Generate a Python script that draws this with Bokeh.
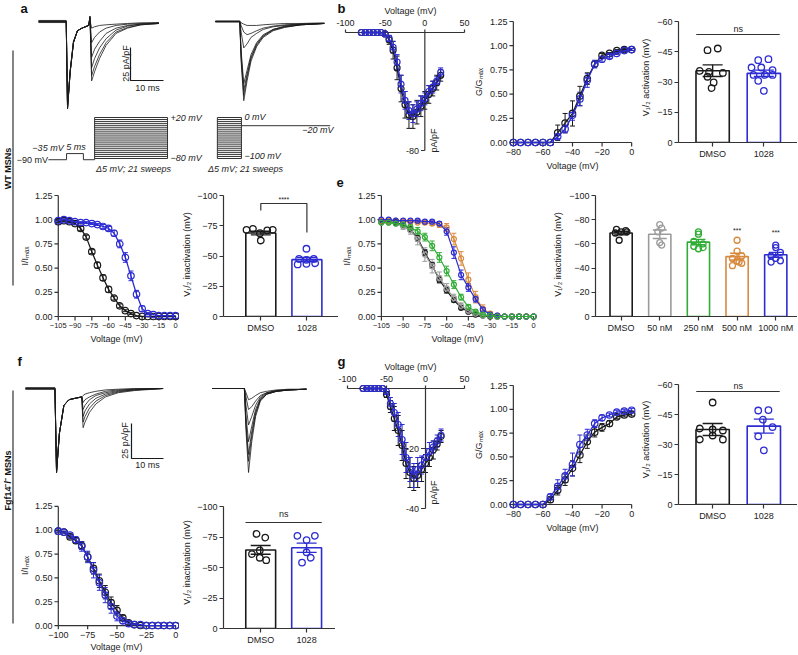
import numpy as np
from bokeh.plotting import figure
from bokeh.layouts import row, column
from bokeh.models import (Range1d, LinearAxis, FixedTicker, Label, Whisker, TeeHead,
                          ColumnDataSource, PrintfTickFormatter)
from bokeh.embed import file_html
from bokeh.resources import INLINE
from bokeh.core.properties import value

FONT = "Liberation Sans"
INK = "#1a1a1a"
AXC = "#333333"
TXT = "#222222"
BLUE = "#2c2cd2"
GRAY = "#9b9b9b"
GREEN = "#31ad36"
ORANGE = "#d88a3e"

# ======================= DATA =======================
# (a) WT MSN traces - left: paired-pulse protocol (ms, pA/pF)
A_LEFT_T = [0, 8.4, 8.8, 9.6, 10.6, 11.8, 13.2, 15.2, 15.6, 16.1, 17.0, 18.5, 20.5, 23.5, 27.0, 31.0, 36.5]
A_LEFT_I = [
    [0, 0, -66, -38, -16, -7, -5, -3, 4, -45, -38, -28, -18, -9, -5, -2.5, -1.5],
    [0.8, 0.8, -65, -37, -15, -7, -5, -3, 4, -41, -34, -25, -16, -8, -4.5, -2.5, -1.5],
    [-0.8, -0.8, -64, -38, -15, -7, -5, -3, 3, -35, -28, -20, -13, -6.5, -3.5, -2, -1.5],
    [0.4, 0.4, -66, -38, -16, -7, -5, -3, 3, -27, -21, -15, -9, -5, -3, -2, -1],
    [-0.4, -0.4, -65, -38, -16, -7, -5, -3, 2, -16, -12, -8, -5, -3, -2, -1.5, -1],
    [0, 0, -66, -38, -16, -7, -5, -3, 1, -5, -4, -3, -2.5, -2, -1.5, -1, -1],
]
# (a) right: steady-state inactivation protocol
A_RIGHT_T = [0, 7.4, 7.8, 8.6, 9.6, 10.8, 12.5, 14.5, 17.5, 21.0, 26.0, 33.0]
A_RIGHT_I = [
    [0, 0, -30, -60, -45, -30, -19, -12, -7, -4.5, -2.5, -1.5],
    [0.5, 0.5, -27, -56, -42, -28, -18, -11, -6.5, -4, -2.5, -1.5],
    [-0.5, -0.5, -25, -52, -40, -27, -17, -11, -6, -4, -2.5, -1.5],
    [0, 0, -22, -47, -37, -25, -16, -10, -6, -3.5, -2, -1.5],
    [0, 0, -8, -20, -17, -12, -9, -6, -4, -3, -2, -1.5],
    [0, 0, -3, -8, -10, -9, -7, -5, -3.5, -2.5, -2, -1.5],
    [0, 0, -1, -2, -3, -3, -3, -2.5, -2, -1.5, -1.5, -1],
]
# (f) Fgf14-/- traces
F_LEFT_T = [0, 9.2, 9.7, 10.6, 12.0, 13.6, 15.5, 17.6, 18.0, 18.6, 20.0, 22.0, 25.0, 29.0, 34.0, 43.0]
F_LEFT_I = [
    [0, 0, -60, -32, -12, -8, -7, -6, -28, -24, -17, -11, -6, -3, -1.5, 0],
    [0.6, 0.6, -59, -32, -12, -8, -7, -6, -24, -20, -14, -9, -5, -2.5, -1, 0],
    [-0.6, -0.6, -60, -32, -12, -8, -7, -6, -20, -16, -11, -7, -4, -2, -1, 0],
    [0.3, 0.3, -59, -32, -12, -8, -7, -6, -15, -12, -8, -5, -3, -1.5, -0.5, 0],
    [-0.3, -0.3, -60, -32, -12, -8, -7, -6, -10, -8, -6, -4, -2, -1, -0.5, 0],
    [0, 0, -60, -32, -12, -8, -7, -6, -5, -4, -3, -2, -1, -0.5, 0, 0],
]
F_RIGHT_T = [0, 10.0, 10.5, 11.3, 12.3, 13.5, 15.0, 17.0, 20.0, 24.0, 29.4]
F_RIGHT_I = [
    [0, 0, -30, -60, -38, -20, -9, -4, -2, -1, -0.5],
    [0, 0, -26, -52, -34, -18, -8, -4, -2, -1, -0.5],
    [0, 0, -24, -47, -31, -17, -8, -4, -2, -1, -0.5],
    [0, 0, -19, -38, -27, -15, -7, -3.5, -2, -1, -0.5],
    [0, 0, -12, -26, -20, -12, -6, -3, -1.5, -1, -0.5],
    [0, 0, -6, -15, -13, -9, -5, -3, -1.5, -1, -0.5],
    [0, 0, -3, -8, -7, -5, -3, -2, -1, -0.5, -0.5],
]
SCALE_CURRENT = 25   # pA/pF
SCALE_TIME = 10      # ms

# protocols (mV); hold / prepulse levels as drawn in the schematic
PROT1_STEPS = [-80, -75, -70, -65, -60, -55, -50, -45, -40, -35, -30, -25, -20, -15, -10, -5, 0, 5, 10, 15, 20]
PROT1_HOLD_DRAWN = -83
PROT1_PRE_DRAWN = -68
PROT1_TIMES = [3.0, 8.5, 13.6, 17.0, 39.1]
PROT2_STEPS = [-100, -95, -90, -85, -80, -75, -70, -65, -60, -55, -50, -45, -40, -35, -30, -25, -20, -15, -10, -5, 0]
PROT2_TEST = -20
PROT2_TIMES = [0.6, 7.9, 34.8]

# (b)/(g) I-V
V_IV = [-80, -75, -70, -65, -60, -55, -50, -45, -40, -35, -30, -25, -20, -15, -10, -5, 0, 5, 10, 15, 20]
B_DMSO = [0, 0, 0, 0, 0, 0, -1, -5, -12, -24, -38, -49, -56, -57, -54, -50, -46, -42, -38, -34, -29]
B_DMSO_ERR = [0, 0, 0, 0, 0, 0, 1, 3, 6, 8, 9, 9, 9, 8, 8, 7, 6, 6, 5, 5, 4]
B_1028 = [0, 0, 0, 0, 0, 0, -1, -4, -10, -20, -35, -46, -53, -55, -52, -48, -45, -40, -37, -33, -27]
B_1028_ERR = [0, 0, 0, 0, 0, 0, 1, 2, 4, 5, 6, 6, 6, 6, 5, 5, 4, 4, 4, 3, 3]
G_DMSO = [0, 0, 0, 0, 0, 0, -2, -6, -10, -14, -19, -25, -28, -30, -29, -27, -25, -23, -20.5, -18.5, -16]
G_DMSO_ERR = [0, 0, 0, 0, 0, 0, 1, 2, 4, 5, 5, 5, 5, 4, 4, 4, 3, 3, 3, 2, 2]
G_1028 = [0, 0, 0, 0, 0, 0, -1, -5, -8, -12, -17, -23, -27, -29, -27, -25.5, -23, -21, -19.5, -17.5, -15.5]
G_1028_ERR = [0, 0, 0, 0, 0, 0, 1, 2, 3, 4, 5, 5, 4, 4, 4, 3, 3, 3, 2, 2, 2]
IV_TICKS = [-100, -50, 0, 50]

# (c)/(h) activation G/Gmax
V_ACT = [-80, -75, -70, -65, -60, -55, -50, -45, -40, -35, -30, -25, -20, -15, -10, -5, 0]
C_DMSO = [0, 0, 0, 0, 0, 0, 0.10, 0.20, 0.30, 0.48, 0.66, 0.81, 0.90, 0.92, 0.95, 0.96, 0.96]
C_DMSO_ERR = [0, 0, 0, 0, 0, 0, 0.08, 0.10, 0.13, 0.10, 0.06, 0.03, 0.02, 0.01, 0.01, 0.01, 0.01]
C_1028 = [0, 0, 0, 0, 0, 0, 0.06, 0.14, 0.28, 0.45, 0.64, 0.81, 0.86, 0.89, 0.92, 0.95, 0.96]
C_1028_ERR = [0, 0, 0, 0, 0, 0, 0.02, 0.04, 0.05, 0.07, 0.07, 0.04, 0.03, 0.02, 0.01, 0.01, 0.01]
H_DMSO = [0, 0, 0, 0, 0, 0.05, 0.15, 0.26, 0.38, 0.52, 0.66, 0.76, 0.81, 0.85, 0.92, 0.94, 0.95]
H_DMSO_ERR = [0, 0, 0, 0, 0, 0.03, 0.05, 0.06, 0.08, 0.08, 0.07, 0.05, 0.04, 0.03, 0.02, 0.02, 0.02]
H_1028 = [0, 0, 0, 0, 0, 0.08, 0.19, 0.30, 0.42, 0.63, 0.73, 0.85, 0.91, 0.94, 0.97, 0.98, 0.99]
H_1028_ERR = [0, 0, 0, 0, 0, 0.03, 0.07, 0.07, 0.12, 0.10, 0.06, 0.04, 0.03, 0.02, 0.02, 0.02, 0.02]
ACT_TICKS = [-80, -60, -40, -20, 0]
FRAC_TICKS = [0, 0.25, 0.5, 0.75, 1.0, 1.25]

# (d)/(e) inactivation I/Imax
V_INACT = [-105, -100, -95, -90, -85, -80, -75, -70, -65, -60, -55, -50, -45, -40, -35, -30, -25, -20, -15, -10, -5, 0]
D_DMSO = [0.98, 0.99, 0.98, 0.96, 0.91, 0.82, 0.67, 0.53, 0.40, 0.28, 0.19, 0.11, 0.06, 0.03, 0.01, 0, 0, 0, 0, 0, 0, 0]
D_DMSO_ERR = [0.01, 0.01, 0.01, 0.01, 0.02, 0.02, 0.02, 0.03, 0.03, 0.03, 0.02, 0.02, 0.01, 0.01, 0, 0, 0, 0, 0, 0, 0, 0]
D_1028 = [0.99, 1.0, 0.99, 0.98, 0.97, 0.97, 0.96, 0.95, 0.93, 0.91, 0.86, 0.75, 0.61, 0.42, 0.23, 0.08, 0.03, 0.02, 0.01, 0.01, 0.01, 0.01]
D_1028_ERR = [0.01, 0.01, 0.01, 0.01, 0.01, 0.01, 0.01, 0.01, 0.02, 0.02, 0.03, 0.04, 0.05, 0.05, 0.04, 0.03, 0.01, 0, 0, 0, 0, 0]
E_DMSO = [0.98, 0.98, 0.97, 0.95, 0.90, 0.81, 0.66, 0.53, 0.38, 0.27, 0.17, 0.09, 0.05, 0.02, 0.01, 0, 0, 0, 0, 0, 0, 0]
E_DMSO_ERR = [0.01, 0.01, 0.01, 0.01, 0.02, 0.03, 0.03, 0.03, 0.03, 0.03, 0.02, 0.02, 0.01, 0.01, 0, 0, 0, 0, 0, 0, 0, 0]
E_50 = [0.97, 0.97, 0.96, 0.93, 0.89, 0.80, 0.64, 0.52, 0.40, 0.29, 0.19, 0.11, 0.06, 0.03, 0.01, 0.01, 0, 0, 0, 0, 0, 0]
E_50_ERR = [0.01, 0.01, 0.02, 0.03, 0.04, 0.06, 0.07, 0.07, 0.06, 0.05, 0.04, 0.03, 0.02, 0.01, 0, 0, 0, 0, 0, 0, 0, 0]
E_250 = [0.97, 0.97, 0.96, 0.95, 0.92, 0.88, 0.82, 0.73, 0.61, 0.47, 0.33, 0.20, 0.10, 0.05, 0.02, 0.01, 0, 0, 0, 0, 0, 0]
E_250_ERR = [0.01, 0.01, 0.01, 0.02, 0.03, 0.04, 0.04, 0.05, 0.05, 0.05, 0.04, 0.03, 0.02, 0.01, 0.01, 0, 0, 0, 0, 0, 0, 0]
E_500 = [0.99, 0.99, 0.99, 0.98, 0.98, 0.97, 0.97, 0.96, 0.95, 0.92, 0.80, 0.60, 0.38, 0.20, 0.08, 0.03, 0.01, 0, 0, 0, 0, 0]
E_500_ERR = [0.01, 0.01, 0.01, 0.01, 0.01, 0.01, 0.02, 0.02, 0.03, 0.04, 0.06, 0.07, 0.07, 0.06, 0.04, 0.02, 0.01, 0, 0, 0, 0, 0]
E_1000 = [1.0, 1.0, 0.99, 0.99, 0.99, 0.99, 0.98, 0.98, 0.96, 0.88, 0.66, 0.43, 0.30, 0.18, 0.07, 0.02, 0.01, 0, 0, 0, 0, 0]
E_1000_ERR = [0, 0, 0.01, 0.01, 0.01, 0.01, 0.01, 0.01, 0.02, 0.04, 0.06, 0.05, 0.04, 0.03, 0.02, 0.01, 0, 0, 0, 0, 0, 0]
INACT_TICKS = [-105, -90, -75, -60, -45, -30, -15, 0]

# (i) Fgf14-/- inactivation
V_INACT_I = [-100, -95, -90, -85, -80, -75, -70, -65, -60, -55, -50, -45, -40, -35, -30, -25, -20, -15, -10, -5, 0]
I_DMSO = [0.99, 0.98, 0.93, 0.89, 0.84, 0.72, 0.60, 0.47, 0.35, 0.24, 0.16, 0.08, 0.03, 0.01, 0, 0, 0, 0, 0, 0, 0]
I_DMSO_ERR = [0.01, 0.01, 0.02, 0.03, 0.04, 0.05, 0.06, 0.07, 0.07, 0.06, 0.05, 0.03, 0.02, 0.01, 0, 0, 0, 0, 0, 0, 0]
I_1028 = [0.99, 0.98, 0.95, 0.90, 0.83, 0.72, 0.58, 0.45, 0.32, 0.20, 0.10, 0.05, 0.02, 0.01, 0.01, 0, 0, 0, 0, 0, 0]
I_1028_ERR = [0.01, 0.01, 0.02, 0.03, 0.05, 0.06, 0.08, 0.08, 0.08, 0.07, 0.05, 0.03, 0.02, 0.01, 0, 0, 0, 0, 0, 0, 0]
INACT_I_TICKS = [-100, -75, -50, -25, 0]

# bar charts: V1/2 (mV)
GROUPS2 = ["DMSO", "1028"]
GROUPS5 = ["DMSO", "50 nM", "250 nM", "500 nM", "1000 nM"]
C2_MEAN = [-35.6, -34.3]
C2_SEM = [2.9, 1.6]
C2_PTS = [[-45.8, -46.6, -35.5, -35.0, -34.5, -32.6, -29.8, -27.0],
          [-40.8, -41.3, -37.2, -37.2, -35.9, -33.5, -33.5, -33.5, -30.6, -25.6]]
D2_MEAN = [-69.0, -47.0]
D2_SEM = [1.5, 1.8]
D2_PTS = [[-71.6, -72.5, -68.9, -71.1, -71.6, -62.8],
          [-56.0, -47.7, -46.8, -47.7, -43.0, -43.5, -44.0]]
E2_MEAN = [-69.0, -68.0, -61.5, -49.5, -51.0]
E2_SEM = [1.5, 3.5, 2.2, 2.8, 2.0]
E2_PTS = [[-72, -71, -70, -69, -70, -63],
          [-76, -73, -70, -61, -59],
          [-70, -68, -62, -60, -58, -57, -56],
          [-63, -54, -50, -48, -46, -44, -42, -45],
          [-59, -57, -53, -50, -48, -46, -45]]
H2_MEAN = [-37.5, -39.2]
H2_SEM = [3.0, 3.5]
H2_PTS = [[-51, -38, -37.5, -37, -34.5, -32.5, -32.5],
          [-47.0, -47.2, -42.4, -38.7, -34.1, -27.1]]
I2_MEAN = [-64.4, -66.2]
I2_SEM = [3.6, 3.8]
I2_PTS = [[-77.5, -74.5, -64, -61, -58, -56],
          [-76, -72.5, -76, -62.5, -58, -54]]

# scatter jitter (horizontal spread of dots inside each bar)
C2_JIT = [[-0.1, 0.1, -0.25, -0.07, 0.2, -0.1, 0.02, -0.02],
          [-0.11, 0.09, -0.24, -0.05, 0.17, -0.2, 0.02, 0.17, -0.11, 0.0]]
D2_JIT = [[-0.31, -0.17, -0.02, 0.14, 0.26, 0.0],
          [-0.01, -0.17, -0.01, 0.15, -0.2, -0.01, 0.18]]
E2_JIT = [[-0.12, 0.12, 0.0, -0.15, 0.15, -0.05],
          [0.0, 0.05, -0.05, 0.0, 0.05],
          [0.0, 0.0, -0.12, 0.12, -0.12, 0.12, 0.0],
          [0.0, 0.0, 0.12, -0.12, 0.0, 0.12, -0.12, 0.05],
          [0.0, 0.0, 0.12, -0.12, 0.0, 0.12, -0.12]]
H2_JIT = [[0.0, -0.25, 0.0, 0.2, 0.0, -0.25, 0.2],
          [-0.11, 0.09, -0.02, 0.17, -0.11, 0.0]]
I2_JIT = [[-0.09, 0.1, -0.02, -0.19, -0.02, 0.12],
          [-0.2, 0.0, 0.18, 0.0, 0.09, -0.1]]


# ======================= HELPERS =======================
def mk(sx0, sx1, sy0, sy1, frame, xcal, ycal):
    fx0, fy0, fx1, fy1 = frame

    def X(p, c=xcal):
        return c[0] + (p - c[1]) * (c[2] - c[0]) / (c[3] - c[1])

    def Y(p, c=ycal):
        return c[0] + (p - c[1]) * (c[2] - c[0]) / (c[3] - c[1])

    fig = figure(width=sx1 - sx0, height=sy1 - sy0,
                 x_range=Range1d(X(fx0), X(fx1)), y_range=Range1d(Y(fy1), Y(fy0)),
                 x_axis_type=None, y_axis_type=None, toolbar_location=None,
                 output_backend="svg", outline_line_color=None, min_border=0,
                 frame_align=False,
                 min_border_left=fx0 - sx0, min_border_right=sx1 - fx1,
                 min_border_top=fy0 - sy0, min_border_bottom=sy1 - fy1)
    return fig, X, Y


def axis(p, side, ticks, label="", fmt=None, fs="9px", overrides=None,
         lstand=2, astand=3, tick_out=4, hide=False):
    ax = LinearAxis(ticker=FixedTicker(ticks=ticks), axis_label=label)
    if fmt:
        ax.formatter = PrintfTickFormatter(format=fmt)
    if overrides:
        ax.major_label_overrides = overrides
    ax.axis_line_color = None if hide else AXC
    ax.axis_line_width = 1.2
    ax.major_tick_line_color = None if hide else AXC
    ax.major_tick_line_width = 1.2
    ax.major_tick_out = tick_out
    ax.major_tick_in = 0
    ax.minor_tick_line_color = None
    ax.major_label_text_font = FONT
    ax.major_label_text_font_size = fs
    ax.major_label_text_color = TXT
    ax.major_label_standoff = lstand
    ax.axis_label_text_font = FONT
    ax.axis_label_text_font_size = "9px"
    ax.axis_label_text_font_style = "normal"
    ax.axis_label_text_color = TXT
    ax.axis_label_standoff = astand
    p.add_layout(ax, side)
    return ax


def line_axes(p, X, Y, frame, xcal, ycal, xticks, yticks, xlabel, ylabel, xfs="9px",
              astand_x=3, astand_y=3):
    """Axis lines and ticks drawn at the data origin; labels via edge axes."""
    xv, xpx = xcal[0], xcal[1]
    yv, ypx = ycal[0], ycal[1]
    kw = dict(line_color=AXC, line_width=1.2)
    p.segment(x0=[xv], y0=[min(yticks)], x1=[xv], y1=[max(yticks)], **kw)
    p.segment(x0=[min(xticks)], y0=[yv], x1=[max(xticks)], y1=[yv], **kw)
    p.segment(x0=[xv] * len(yticks), y0=yticks, x1=[X(xpx - 4)] * len(yticks), y1=yticks, **kw)
    p.segment(x0=xticks, y0=[yv] * len(xticks), x1=xticks, y1=[Y(ypx + 4)] * len(xticks), **kw)
    padl = xpx - frame[0]
    padb = frame[3] - ypx
    axis(p, "left", yticks, ylabel, fmt="%.2f", lstand=max(0, 6 - padl), tick_out=0,
         hide=True, astand=astand_y)
    axis(p, "below", xticks, xlabel, fs=xfs, lstand=max(0, 6 - padb), tick_out=0,
         hide=True, astand=astand_x)


def letter(p, X, Y, sx, sy, t):
    p.add_layout(Label(x=X(sx), y=Y(sy), text=t, text_font=FONT, text_font_size="13px",
                       text_font_style="bold", text_color="#111111",
                       text_baseline="top", text_align="left"))


def txt(p, x, y, s, align="center", base="middle", size="9px", style="normal", angle=0,
        color=TXT):
    p.text(x=[x], y=[y], text=[s], text_align=align, text_baseline=base,
           text_font=value(FONT), text_font_size=size, text_font_style=style,
           text_color=color, angle=angle)


def gletter(p, X, Y, sx, sy, t):
    txt(p, X(sx), Y(sy), t, align="left", base="top", size="13px", style="bold", color="#111111")


def errbars(p, x, m, e, color, head=5, lw=1.0):
    xs = [a for a, s in zip(x, e) if s > 0]
    lo = [v - s for v, s in zip(m, e) if s > 0]
    up = [v + s for v, s in zip(m, e) if s > 0]
    if not xs:
        return
    src = ColumnDataSource(dict(b=xs, lo=lo, up=up))
    p.add_layout(Whisker(source=src, base="b", lower="lo", upper="up",
                         line_color=color, line_width=lw,
                         upper_head=TeeHead(size=head, line_color=color, line_width=lw),
                         lower_head=TeeHead(size=head, line_color=color, line_width=lw)))


def curve(p, V, m, e, color, size=6.5, lw=1.3):
    p.line(V, m, line_color=color, line_width=lw)
    errbars(p, V, m, e, color)
    p.scatter(V, m, marker="circle", size=size, fill_color=None, line_color=color, line_width=1.2)


def bars(p, means, sems, pts, jit, colors, bw, head, msize=6.5):
    xs = list(range(len(means)))
    p.vbar(x=xs, bottom=0, top=means, width=bw, fill_color=None, line_color=colors, line_width=1.6)
    for i in xs:
        errbars(p, [i], [means[i]], [sems[i]], colors[i], head=head, lw=1.4)
        p.scatter(x=[i + j for j in jit[i]], y=pts[i], marker="circle", size=msize,
                  fill_color=None, line_color=colors[i], line_width=1.3)


def bar_axes(p, yticks, ylabel, groups, astand=3):
    axis(p, "left", yticks, ylabel, astand=astand)
    p.yaxis[0].bounds = (min(yticks), max(yticks))
    axis(p, "below", list(range(len(groups))), "", overrides={i: g for i, g in enumerate(groups)})


# ======================= STRIP (side labels) =======================
H_TOTAL = 654
strip = figure(width=16, height=H_TOTAL, x_range=Range1d(0, 16),
               y_range=Range1d(0, H_TOTAL), x_axis_type=None, y_axis_type=None,
               toolbar_location=None, output_backend="svg", min_border=0,
               outline_line_color=None, frame_align=False)


def SY(sy):
    return H_TOTAL - sy


strip.segment(x0=[12.5, 12.5], y0=[SY(50), SY(390)], x1=[12.5, 12.5], y1=[SY(285), SY(623)],
              line_color=AXC, line_width=1.2)
strip.text(x=[7, 7], y=[SY(168), SY(480)], text=["WT MSNs", "Fgf14\u207b/\u207b MSNs"],
           angle=np.pi / 2, text_align="center", text_baseline="middle",
           text_font=value(FONT), text_font_size="9px", text_font_style="bold", text_color="#111111")

# ======================= BAND 1 =======================
a, aX, aY = mk(16, 335, 0, 190, (16, 0, 335, 190), (0, 38, 10, 71), (0, 21, -25, 54))
A_RIGHT_OFFSET = 53.6  # ms, horizontal placement of right trace family


def p1Y(p):
    return (p - 125.2) * (-100) / (166.2 - 125.2)


def p2Y(p):
    return (p - 117) * (-100) / (158 - 117)


a.extra_y_ranges = {"p1": Range1d(p1Y(190), p1Y(0)), "p2": Range1d(p2Y(190), p2Y(0))}
a.multi_line(xs=[A_LEFT_T] * len(A_LEFT_I), ys=A_LEFT_I, line_color=INK, line_width=0.8)
a.multi_line(xs=[[t + A_RIGHT_OFFSET for t in A_RIGHT_T]] * len(A_RIGHT_I), ys=A_RIGHT_I,
             line_color=INK, line_width=0.8)
sbx, sby = aX(130), aY(80)
a.line([sbx, sbx, sbx + SCALE_TIME], [sby + SCALE_CURRENT, sby, sby], line_color=INK, line_width=1.2)
txt(a, aX(125), aY(63), "25 pA/pF", angle=np.pi / 2)
txt(a, aX(147), aY(87), "10 ms")
t0, t1, t2, t3, t4 = PROT1_TIMES
a.line([t0, t1, t1, t2, t2, t3], [PROT1_HOLD_DRAWN, PROT1_HOLD_DRAWN, PROT1_PRE_DRAWN,
                                  PROT1_PRE_DRAWN, PROT1_HOLD_DRAWN, PROT1_HOLD_DRAWN],
       line_color=AXC, line_width=1.0, y_range_name="p1")
a.segment(x0=[t3] * len(PROT1_STEPS), x1=[t4] * len(PROT1_STEPS), y0=PROT1_STEPS, y1=PROT1_STEPS,
          line_color=AXC, line_width=1.0, y_range_name="p1")
a.segment(x0=[t3, t4], x1=[t3, t4], y0=[PROT1_HOLD_DRAWN, PROT1_STEPS[0]],
          y1=[PROT1_STEPS[-1], PROT1_STEPS[-1]], line_color=AXC, line_width=1.0, y_range_name="p1")
txt(a, aX(47.5), aY(159), "\u221290 mV", align="right")
txt(a, aX(47.5), aY(147), "\u221235 mV", style="italic")
txt(a, aX(75.5), aY(146), "5 ms", style="italic")
txt(a, aX(170), aY(117), "+20 mV", align="left", style="italic")
txt(a, aX(170), aY(157), "\u221280 mV", align="left", style="italic")
txt(a, aX(133), aY(168), "\u03945 mV; 21 sweeps", style="italic")
r0, r1, r2 = [t + A_RIGHT_OFFSET for t in PROT2_TIMES]
a.segment(x0=[r0] * len(PROT2_STEPS), x1=[r1] * len(PROT2_STEPS), y0=PROT2_STEPS, y1=PROT2_STEPS,
          line_color=AXC, line_width=1.0, y_range_name="p2")
a.segment(x0=[r0, r1, r1], x1=[r0, r1, r2], y0=[PROT2_STEPS[0], PROT2_STEPS[0], PROT2_TEST],
          y1=[PROT2_STEPS[-1], PROT2_STEPS[-1], PROT2_TEST],
          line_color=AXC, line_width=1.0, y_range_name="p2")
txt(a, aX(244), aY(116), "0 mV", align="left", style="italic")
txt(a, aX(333), aY(129), "\u221220 mV", align="right", style="italic")
txt(a, aX(244), aY(155), "\u2212100 mV", align="left", style="italic")
txt(a, aX(245), aY(168), "\u03945 mV; 21 sweeps", style="italic")
gletter(a, aX, aY, 20, 0, "a")


def iv_panel(sy0, sy1, x_left_px, axis_y, ycal, yticks, data, unit_y):
    p, X, Y = mk(335, 470, sy0, sy1, (335, sy0, 470, sy1), (-100, x_left_px, 50, 464), ycal)
    kw = dict(line_color=AXC, line_width=1.2)
    p.segment(x0=[IV_TICKS[0]], y0=[0], x1=[IV_TICKS[-1]], y1=[0], **kw)
    p.segment(x0=IV_TICKS, y0=[0] * 4, x1=IV_TICKS, y1=[Y(axis_y - 3)] * 4, **kw)
    p.text(x=IV_TICKS, y=[Y(axis_y - 10)] * 4, text=[str(t) for t in IV_TICKS],
           text_align="center", text_baseline="middle", text_font=value(FONT),
           text_font_size="9px", text_color=TXT)
    txt(p, X(410), Y(axis_y - 22), "Voltage (mV)")
    p.segment(x0=[0], y0=[0], x1=[0], y1=[min(yticks)], **kw)
    x0px = 424.5
    p.segment(x0=[0] * len(yticks), y0=yticks, x1=[X(x0px - 4)] * len(yticks), y1=yticks, **kw)
    p.text(x=[X(x0px - 6)] * len(yticks), y=yticks, text=[str(t) for t in yticks],
           text_align="right", text_baseline="middle", text_font=value(FONT),
           text_font_size="9px", text_color=TXT)
    txt(p, X(433), Y(unit_y), "pA/pF", angle=np.pi / 2)
    for m, e, col in data:
        curve(p, V_IV, m, e, col, size=6)
    return p, X, Y


b, bX, bY = iv_panel(0, 190, 345, 32, (0, 32, -80, 150), [-80],
                     [(B_DMSO, B_DMSO_ERR, INK), (B_1028, B_1028_ERR, BLUE)], 140)
gletter(b, bX, bY, 337, 0, "b")
gletter(b, bX, bY, 336, 177, "e")

C1_FRAME = (504, 16, 636, 147)
C1_XCAL = (-80, 509, 0, 631)
C1_YCAL = (0, 142, 1.25, 21)
c1, c1X, c1Y = mk(470, 638, 0, 190, C1_FRAME, C1_XCAL, C1_YCAL)
line_axes(c1, c1X, c1Y, C1_FRAME, C1_XCAL, C1_YCAL, ACT_TICKS, FRAC_TICKS,
          "Voltage (mV)", "G/G\u2098\u2090\u2093")
curve(c1, V_ACT, C_DMSO, C_DMSO_ERR, INK)
curve(c1, V_ACT, C_1028, C_1028_ERR, BLUE)
letter(c1, c1X, c1Y, 480, 0, "c")

c2, c2X, c2Y = mk(638, 797, 0, 190, (675, 12, 797, 142), (0, 710, 1, 762.5), (0, 142, -60, 21))
bar_axes(c2, [0, -15, -30, -45, -60], "V\u2081/\u2082 activation (mV)", GROUPS2)
bars(c2, C2_MEAN, C2_SEM, C2_PTS, C2_JIT, [INK, BLUE], 0.65, 20)
c2.line([-0.32, 1.31], [c2Y(34), c2Y(34)], line_color=AXC, line_width=1.2)
txt(c2, 0.5, c2Y(28), "ns")

band1 = row(a, b, c1, c2)

# ======================= BAND 2 =======================
D1_FRAME = (47, 190, 179, 321)
D1_XCAL = (-105, 52, 0, 175)
D1_YCAL = (0, 316, 1.25, 195)
d1, d1X, d1Y = mk(16, 179, 190, 350, D1_FRAME, D1_XCAL, D1_YCAL)
line_axes(d1, d1X, d1Y, D1_FRAME, D1_XCAL, D1_YCAL, INACT_TICKS, FRAC_TICKS,
          "Voltage (mV)", "I/I\u2098\u2090\u2093", xfs="7.5px", astand_y=2)
curve(d1, V_INACT, D_DMSO, D_DMSO_ERR, INK)
curve(d1, V_INACT, D_1028, D_1028_ERR, BLUE)
letter(d1, d1X, d1Y, 20, 190, "d")

d2, d2X, d2Y = mk(179, 338, 190, 350, (207, 192, 338, 316), (0, 249.5, 1, 302), (0, 316, -100, 195))
bar_axes(d2, [0, -25, -50, -75, -100], "V\u2081/\u2082 inactivation (mV)", GROUPS2, astand=2)
bars(d2, D2_MEAN, D2_SEM, D2_PTS, D2_JIT, [INK, BLUE], 0.65, 20)
d2.line([0, 0, 1, 1], [d2Y(210), d2Y(203), d2Y(203), d2Y(232)], line_color=AXC, line_width=1.2)
txt(d2, 0.5, d2Y(199), "****", size="7px")

E1_FRAME = (373, 190, 538, 321)
E1_XCAL = (-105, 378, 0, 533)
E1_YCAL = (0, 316, 1.25, 195)
e1, e1X, e1Y = mk(338, 550, 190, 350, E1_FRAME, E1_XCAL, E1_YCAL)
line_axes(e1, e1X, e1Y, E1_FRAME, E1_XCAL, E1_YCAL, INACT_TICKS, FRAC_TICKS,
          "Voltage (mV)", "I/I\u2098\u2090\u2093", xfs="7.5px")
for m, e, col in [(E_DMSO, E_DMSO_ERR, INK), (E_50, E_50_ERR, GRAY), (E_500, E_500_ERR, ORANGE),
                  (E_1000, E_1000_ERR, BLUE), (E_250, E_250_ERR, GREEN)]:
    curve(e1, V_INACT, m, e, col, size=5, lw=1.2)

e2, e2X, e2Y = mk(550, 797, 190, 350, (588, 192, 797, 316), (0, 614.5, 1, 654.5), (0, 316, -100, 195))
bar_axes(e2, [0, -20, -40, -60, -80, -100], "V\u2081/\u2082 inactivation (mV)", GROUPS5)
bars(e2, E2_MEAN, E2_SEM, E2_PTS, E2_JIT, [INK, GRAY, GREEN, ORANGE, BLUE], 0.575, 14, msize=6)
txt(e2, 3, e2Y(230), "***", size="7px")
txt(e2, 4, e2Y(232), "***", size="7px")

band2 = row(d1, d2, e1, e2)

# ======================= BAND 3/4 =======================
f, fX, fY = mk(16, 335, 350, 493, (16, 350, 335, 493), (0, 25, 10, 57), (0, 388, -25, 423))
F_RIGHT_OFFSET = 58.4  # ms
f.multi_line(xs=[F_LEFT_T] * len(F_LEFT_I), ys=F_LEFT_I, line_color=INK, line_width=0.8)
f.multi_line(xs=[[t + F_RIGHT_OFFSET for t in F_RIGHT_T]] * len(F_RIGHT_I), ys=F_RIGHT_I,
             line_color=INK, line_width=0.8)
fbx, fby = fX(131), fY(458)
f.line([fbx, fbx, fbx + SCALE_TIME], [fby + SCALE_CURRENT, fby, fby], line_color=INK, line_width=1.2)
txt(f, fX(124), fY(440), "25 pA/pF", angle=np.pi / 2)
txt(f, fX(147), fY(464), "10 ms")
gletter(f, fX, fY, 17, 353, "f")

I1_FRAME = (48, 501, 179, 632)
I1_XCAL = (-100, 53, 0, 175)
I1_YCAL = (0, 628, 1.25, 506)
i1, i1X, i1Y = mk(16, 179, 493, 654, I1_FRAME, I1_XCAL, I1_YCAL)
line_axes(i1, i1X, i1Y, I1_FRAME, I1_XCAL, I1_YCAL, INACT_I_TICKS, FRAC_TICKS,
          "Voltage (mV)", "I/I\u2098\u2090\u2093", astand_x=1, astand_y=2)
curve(i1, V_INACT_I, I_DMSO, I_DMSO_ERR, INK)
curve(i1, V_INACT_I, I_1028, I_1028_ERR, BLUE)
letter(i1, i1X, i1Y, 18, 493, "i")

i2, i2X, i2Y = mk(179, 335, 493, 654, (207, 496, 335, 628), (0, 249.5, 1, 302), (0, 628, -100, 506))
bar_axes(i2, [0, -25, -50, -75, -100], "V\u2081/\u2082 inactivation (mV)", GROUPS2, astand=2)
bars(i2, I2_MEAN, I2_SEM, I2_PTS, I2_JIT, [INK, BLUE], 0.65, 20)
i2.line([-0.33, 1.33], [i2Y(522), i2Y(522)], line_color=AXC, line_width=1.2)
txt(i2, 0.5, i2Y(513), "ns")

g, gX, gY = iv_panel(350, 540, 347, 388, (0, 388, -40, 508), [-20, -40],
                     [(G_DMSO, G_DMSO_ERR, INK), (G_1028, G_1028_ERR, BLUE)], 492)
gletter(g, gX, gY, 337, 353, "g")

H1_FRAME = (504, 380, 636, 509)
H1_XCAL = (-80, 509, 0, 631)
H1_YCAL = (0, 504, 1.25, 385)
h1, h1X, h1Y = mk(470, 638, 350, 540, H1_FRAME, H1_XCAL, H1_YCAL)
line_axes(h1, h1X, h1Y, H1_FRAME, H1_XCAL, H1_YCAL, ACT_TICKS, FRAC_TICKS,
          "Voltage (mV)", "G/G\u2098\u2090\u2093")
curve(h1, V_ACT, H_DMSO, H_DMSO_ERR, INK)
curve(h1, V_ACT, H_1028, H_1028_ERR, BLUE)
letter(h1, h1X, h1Y, 480, 353, "h")

h2, h2X, h2Y = mk(638, 797, 350, 540, (675, 374, 797, 504), (0, 710, 1, 762.5), (0, 504, -60, 384))
bar_axes(h2, [0, -15, -30, -45, -60], "V\u2081/\u2082 activation (mV)", GROUPS2)
bars(h2, H2_MEAN, H2_SEM, H2_PTS, H2_JIT, [INK, BLUE], 0.65, 20)
h2.line([-0.32, 1.31], [h2Y(391), h2Y(391)], line_color=AXC, line_width=1.2)
txt(h2, 0.5, h2Y(385), "ns")

left34 = column(f, row(i1, i2))
right34 = row(g, h1, h2)
band34 = row(left34, right34)

layout = row(strip, column(band1, band2, band34))

open("out.html", "w").write(file_html(layout, INLINE))
